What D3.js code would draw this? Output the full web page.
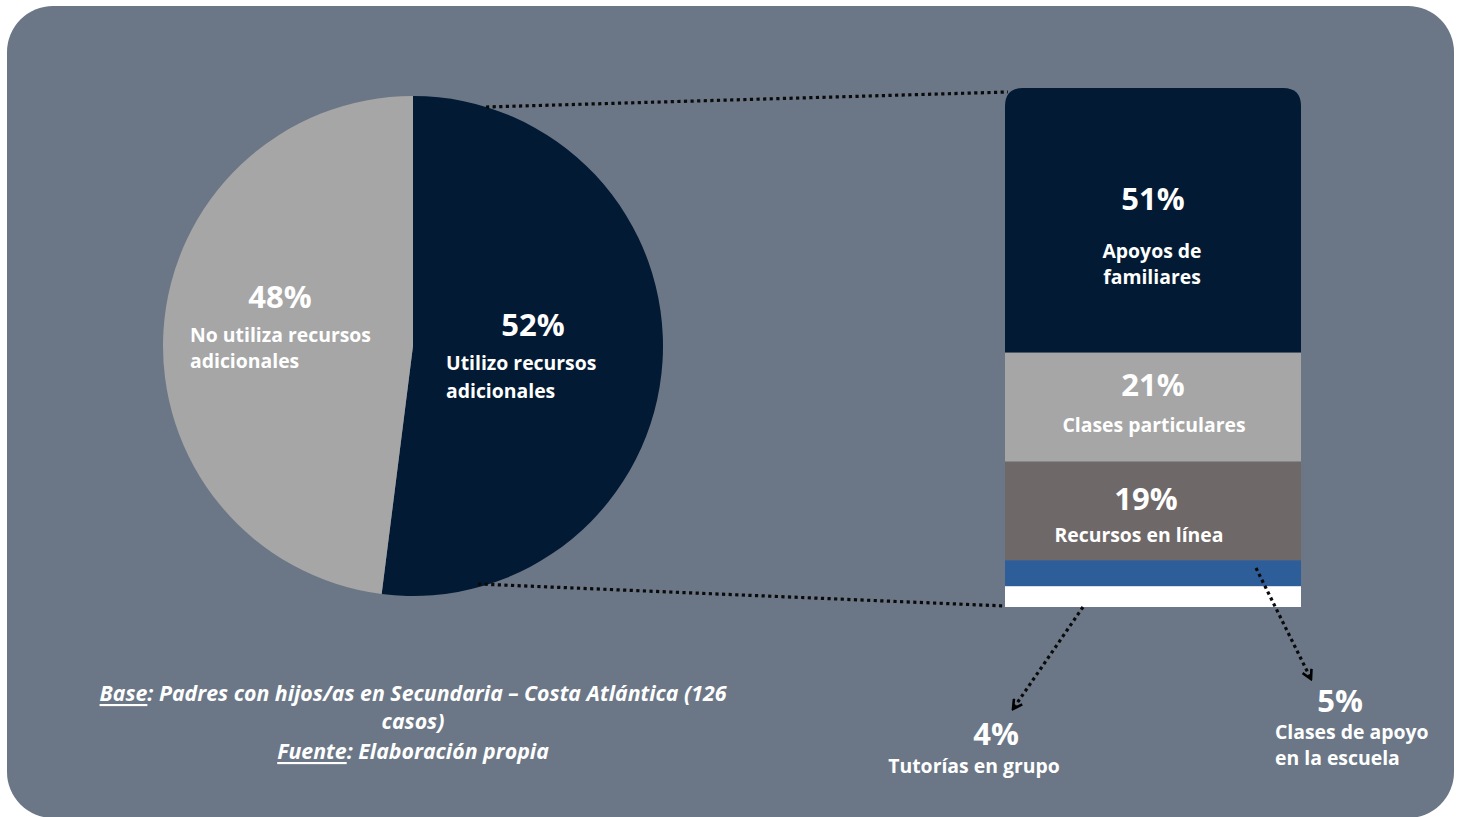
<!DOCTYPE html>
<html>
<head>
<meta charset="utf-8">
<script src="https://cdn.jsdelivr.net/npm/d3@7"></script>
<style>
  html, body { margin: 0; padding: 0; background: #ffffff; }
  svg { display: block; font-family: "Open Sans", "Noto Sans", sans-serif; }
</style>
</head>
<body>
<svg id="chart" width="1464" height="817"></svg>
<script>
// Pie: share of parents using additional resources
const pieLabels = ["Utilizo recursos adicionales", "No utiliza recursos adicionales"];
const pieValues = [52, 48];
const pieColors = ["#021a33", "#a6a6a6"];

// Stacked bar: breakdown of the resources used
const barLabels = ["Apoyos de familiares", "Clases particulares", "Recursos en línea", "Clases de apoyo en la escuela", "Tutorías en grupo"];
const barValues = [51, 21, 19, 5, 4];
const barColors = ["#021a33", "#a6a6a6", "#6f6868", "#2e5e99", "#ffffff"];

const svg = d3.select("#chart");

// Panel background
svg.append("rect")
  .attr("x", 7).attr("y", 6).attr("width", 1447).attr("height", 812)
  .attr("rx", 46).attr("ry", 46)
  .attr("fill", "#6b7786");

// Arrow marker
const defs = svg.append("defs");
defs.append("marker")
  .attr("id", "chev").attr("viewBox", "0 0 12 12")
  .attr("refX", 10).attr("refY", 6)
  .attr("markerWidth", 12).attr("markerHeight", 12)
  .attr("markerUnits", "userSpaceOnUse")
  .attr("orient", "auto")
  .append("path").attr("d", "M1,1 L10,6 L1,11")
  .attr("fill", "none").attr("stroke", "#000").attr("stroke-width", 2.6);

// ---- Pie ----
const cx = 413, cy = 346, R = 250;
const pie = d3.pie().sort(null).value(d => d)(pieValues);
const arc = d3.arc().innerRadius(0).outerRadius(R);
const gPie = svg.append("g").attr("transform", `translate(${cx},${cy})`);
gPie.selectAll("path").data(pie).join("path")
  .attr("d", arc)
  .attr("fill", (d, i) => pieColors[i]);

// ---- Stacked bar ----
const barX = 1005, barW = 296, barTop = 88, barBottom = 607;
const y = d3.scaleLinear().domain([0, d3.sum(barValues)]).range([barTop, barBottom]);
let acc = 0;
const segs = barValues.map((v, i) => {
  const s = { v, i, y0: acc, y1: acc + v };
  acc += v;
  return s;
});
const gBar = svg.append("g");
gBar.append("clipPath").attr("id", "barClip")
  .append("path")
  .attr("d", (() => {
    const r = 18, x0 = barX, x1 = barX + barW, t = barTop, b = barBottom;
    return `M${x0},${b} L${x0},${t + r} Q${x0},${t} ${x0 + r},${t} L${x1 - r},${t} Q${x1},${t} ${x1},${t + r} L${x1},${b} Z`;
  })());
gBar.append("g").attr("clip-path", "url(#barClip)")
  .selectAll("rect").data(segs).join("rect")
  .attr("x", barX).attr("width", barW)
  .attr("y", d => y(d.y0))
  .attr("height", d => y(d.y1) - y(d.y0))
  .attr("fill", d => barColors[d.i]);

// ---- Connector lines (pie to bar) ----
const dotted = { stroke: "#0a0a0a", width: 3.2, dash: "3.2,3.4" };
function dottedLine(x1, y1, x2, y2, arrow) {
  const l = svg.append("line")
    .attr("x1", x1).attr("y1", y1).attr("x2", x2).attr("y2", y2)
    .attr("stroke", dotted.stroke).attr("stroke-width", dotted.width)
    .attr("stroke-dasharray", dotted.dash);
  if (arrow) l.attr("marker-end", "url(#chev)");
  return l;
}
dottedLine(486, 107, barX + 3, barTop + 4);
dottedLine(478, 584, barX, barBottom - 1);

// Callout arrows for the two small segments
dottedLine(1083, 607, 1013, 709, true);
dottedLine(1256, 568, 1311, 679, true);

// ---- Text helpers ----
function txt(x, yy, s, opt = {}) {
  return svg.append("text")
    .attr("x", x).attr("y", yy)
    .attr("fill", opt.fill || "#ffffff")
    .attr("font-size", opt.size || 19.4)
    .attr("font-weight", opt.weight || 700)
    .attr("text-anchor", opt.anchor || "middle")
    .attr("dominant-baseline", "central")
    .text(s);
}
const pct = v => `${v}%`;
const big = { size: 31, weight: 700 };

// Pie labels
txt(280, 296, pct(pieValues[1]), big);
txt(190, 334, "No utiliza recursos", { anchor: "start" });
txt(190, 360, "adicionales", { anchor: "start" });
txt(533, 324, pct(pieValues[0]), big);
txt(446, 362, "Utilizo recursos", { anchor: "start" });
txt(446, 390, "adicionales", { anchor: "start" });

// Bar labels
txt(1153, 198, pct(barValues[0]), big);
txt(1152, 250, "Apoyos de");
txt(1152, 276, "familiares");
txt(1153, 384, pct(barValues[1]), big);
txt(1154, 424, barLabels[1]);
txt(1146, 498, pct(barValues[2]), big);
txt(1139, 534, barLabels[2]);

// Callout labels
txt(996, 733, pct(barValues[4]), big);
txt(974, 765, barLabels[4]);
txt(1340, 700, pct(barValues[3]), big);
txt(1275, 731, "Clases de apoyo", { anchor: "start" });
txt(1275, 757, "en la escuela", { anchor: "start" });

// Footnote
const note = svg.append("g").attr("font-size", 21.3).attr("font-style", "italic")
  .attr("font-weight", 700).attr("fill", "#ffffff").attr("text-anchor", "middle");
const l1 = note.append("text").attr("x", 413).attr("y", 692).attr("dominant-baseline", "central");
l1.append("tspan").attr("text-decoration", "underline").text("Base");
l1.append("tspan").text(": Padres con hijos/as en Secundaria – Costa Atlántica (126");
note.append("text").attr("x", 413).attr("y", 720).attr("dominant-baseline", "central").text("casos)");
const l3 = note.append("text").attr("x", 413).attr("y", 750).attr("dominant-baseline", "central");
l3.append("tspan").attr("text-decoration", "underline").text("Fuente");
l3.append("tspan").text(": Elaboración propia");
</script>
</body>
</html>
